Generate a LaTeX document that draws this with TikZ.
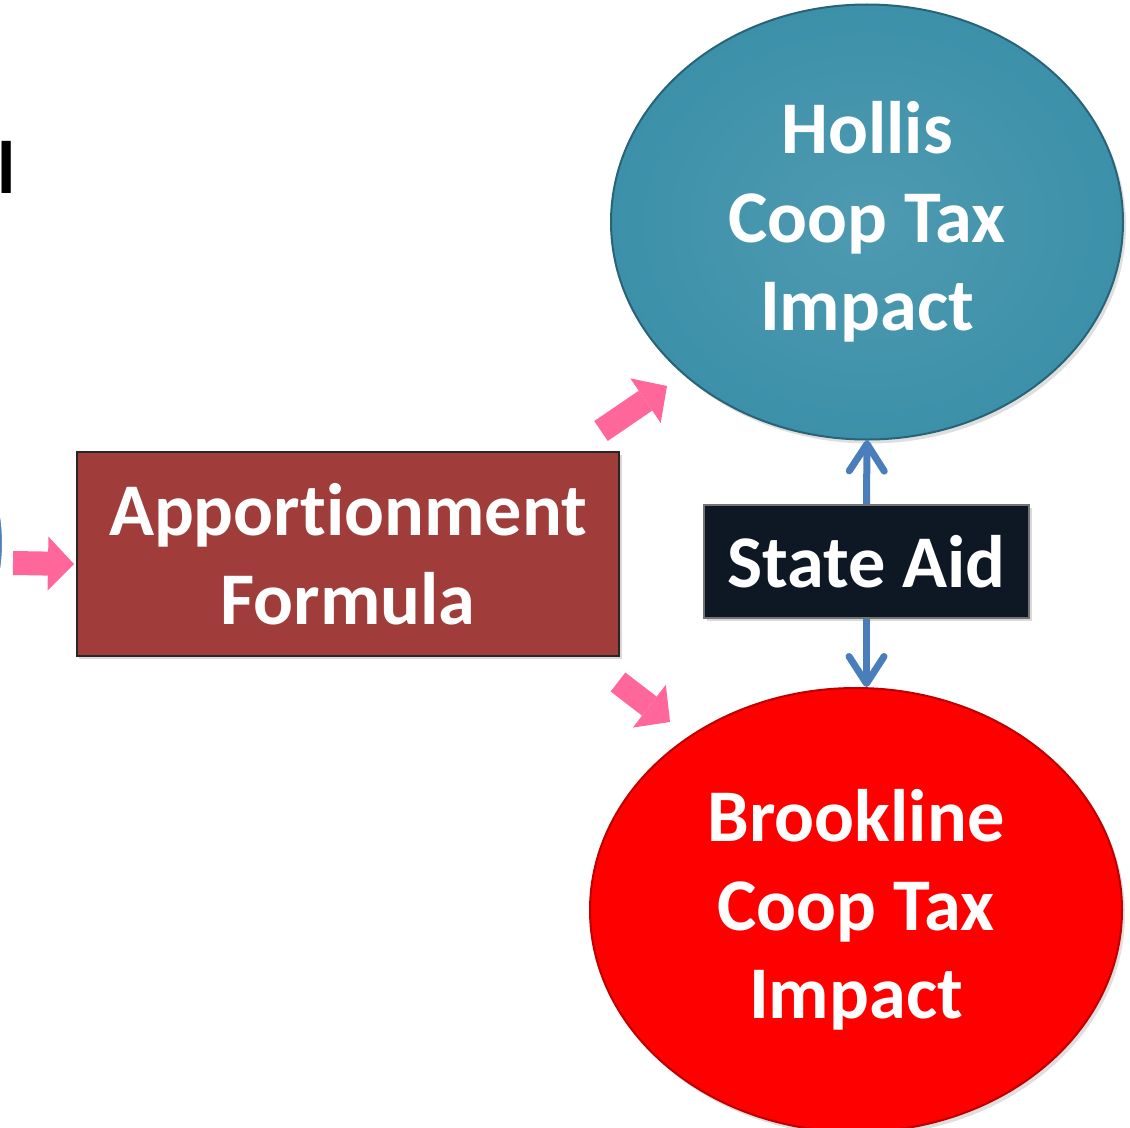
\documentclass[tikz,border=0pt]{standalone}
\usepackage{fontspec}
\setmainfont{Carlito}[Ligatures = NoCommon]
\usetikzlibrary{shapes.geometric, arrows.meta, shadows}

\definecolor{hollisteal}{RGB}{58,143,168}
\definecolor{brookred}{RGB}{255,0,0}
\definecolor{formulabrown}{RGB}{160,61,58}
\definecolor{aidnavy}{RGB}{13,24,36}
\definecolor{flowpink}{RGB}{255,102,153}
\definecolor{aidblue}{RGB}{74,126,187}
\definecolor{sourceblue}{RGB}{79,129,189}

\pgfdeclareradialshading{tealrim}{\pgfpoint{0bp}{0bp}}{color(0bp)=(hollisteal!90!white);
  color(28bp)=(hollisteal); color(46bp)=(hollisteal); color(50bp)=(hollisteal!70!black)}
\pgfdeclareradialshading{redrim}{\pgfpoint{0bp}{0bp}}{color(0bp)=(brookred);
  color(40bp)=(brookred); color(46bp)=(brookred!92!black); color(50bp)=(brookred!70!black)}

\begin{document}
\begin{tikzpicture}[x = 0.2mm, y = -0.2mm,
    every node/.style = {font = \fontsize{42.3}{50.5}\selectfont\bfseries,
                         text = white, align = center, inner sep = 0pt},
    impact/.style = {shape = ellipse, shade, line width = 0.4mm,
                     drop shadow = {opacity = 0.25, shadow xshift = 0.6mm, shadow yshift = -0.8mm}},
    box/.style = {shape = rectangle, line width = 0.4mm,
                  drop shadow = {opacity = 0.3, shadow xshift = 0.5mm, shadow yshift = -0.6mm}},
    pinkarrow/.style = {draw = flowpink, line width = 4.8mm,
                        -{Triangle[length = 5.2mm, width = 10.8mm, line width = 0pt]}},
    aidarrow/.style = {draw = aidblue, line width = 1.4mm,
                       -{Straight Barb[round, length = 5.4mm, width = 7mm]}}]
  \useasboundingbox (0, 0) rectangle (1130, 1127);

  % cut off pieces at the left edge
  \node [shape = circle, minimum size = 72mm, fill = sourceblue, draw = white,
         line width = 0.8mm] (src) at (-176, 543) {};
  \node [text = black, anchor = base west] (frag) at (-3, 193) {l};

  \node [impact, shading = tealrim, draw = hollisteal!70!black,
         minimum width = 102.4mm, minimum height = 87mm] (hollis) at (867, 222)
        {Hollis\\Coop Tax\\Impact};
  \node [impact, shading = redrim, draw = brookred!75!black,
         minimum width = 106.4mm, minimum height = 88.8mm] (brook) at (856, 910)
        {Brookline\\Coop Tax\\Impact};

  \node [box, fill = formulabrown, draw = black!85,
         minimum width = 108.4mm, minimum height = 40.8mm] (appor) at (348, 554)
        {Apportionment\\Formula};
  \node [box, fill = aidnavy, draw = black!55,
         minimum width = 65mm, minimum height = 22.6mm] (aid) at (866.5, 561.5)
        {State Aid};

  \draw [pinkarrow] ([xshift = 1.4mm, yshift = -4mm]src.east)
                 -- ([xshift = -0.4mm, yshift = -2mm]appor.west);
  \draw [pinkarrow] ([xshift = -3.8mm, yshift = 4mm]appor.north east)
                 -- ([xshift = -40mm, yshift = -32.8mm]hollis.center);
  \draw [pinkarrow] ([xshift = -0.4mm, yshift = -5mm]appor.south east)
                 -- ([xshift = -37.2mm, yshift = 37.6mm]brook.center);

  \draw [aidarrow] (aid.north) -- (hollis.south);
  \draw [aidarrow] (aid.south) -- (aid.south |- brook.north);
\end{tikzpicture}
\end{document}
